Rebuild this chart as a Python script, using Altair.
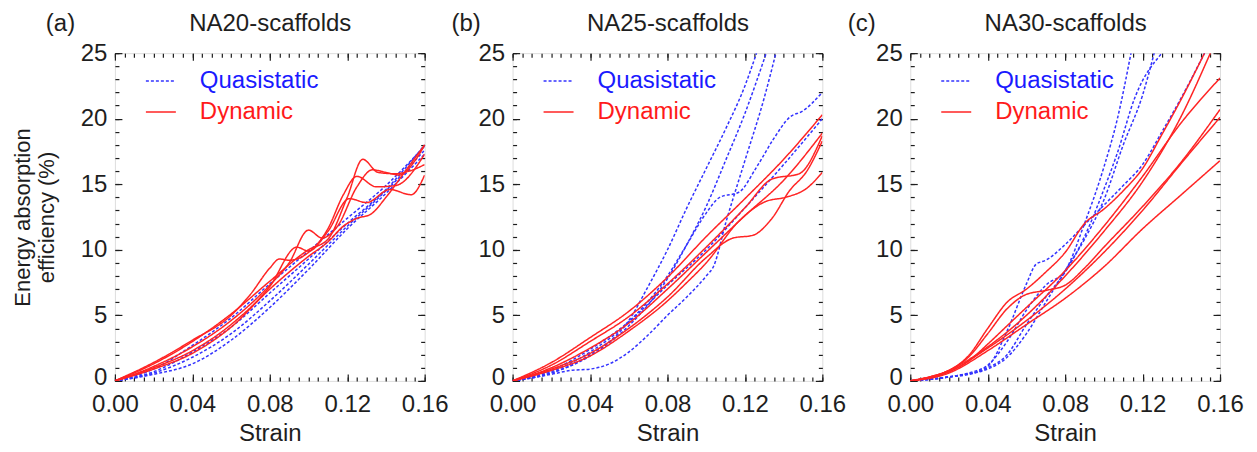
import altair as alt
import pandas as pd

FONT = "Liberation Sans"
INK = "#1e1e1e"
BLUE = "#3333ff"
RED = "#ff2424"

# ---- data: (strain, energy absorption efficiency %) ----
# NA20-scaffolds
NA20_Q1 = [(0, 0), (0.02, 0.9), (0.04, 2.7), (0.06, 4.8), (0.08, 7.4), (0.10, 9.9), (0.12, 12.4), (0.14, 14.9), (0.16, 17.9)]
NA20_Q2 = [(0, 0), (0.02, 0.7), (0.04, 2.2), (0.06, 4.1), (0.08, 6.7), (0.10, 9.3), (0.12, 12.0), (0.14, 14.6), (0.16, 18.0)]
NA20_Q3 = [(0, 0), (0.02, 0.6), (0.04, 1.8), (0.06, 3.6), (0.08, 6.1), (0.10, 8.9), (0.12, 11.8), (0.14, 14.5), (0.16, 17.6)]
NA20_Q4 = [(0, 0), (0.02, 0.5), (0.04, 1.3), (0.06, 3.1), (0.08, 5.6), (0.10, 8.5), (0.12, 11.6), (0.14, 14.3), (0.16, 17.3)]
NA20_D1 = [(0, 0), (0.02, 1.3), (0.04, 3.0), (0.06, 5.1), (0.08, 7.6), (0.10, 10.0), (0.11, 10.8), (0.12, 14.0), (0.128, 16.9), (0.136, 15.9), (0.145, 15.8), (0.152, 16.0), (0.16, 16.5)]
NA20_D2 = [(0, 0), (0.02, 1.4), (0.04, 3.1), (0.06, 5.0), (0.07, 6.6), (0.08, 8.6), (0.085, 9.3), (0.09, 9.2), (0.10, 9.8), (0.11, 11.6), (0.118, 14.2), (0.125, 15.6), (0.135, 14.8), (0.145, 14.9), (0.16, 17.3)]
NA20_D3 = [(0, 0), (0.02, 1.1), (0.04, 2.6), (0.06, 4.6), (0.08, 7.3), (0.09, 9.0), (0.10, 11.5), (0.107, 10.9), (0.115, 11.8), (0.125, 14.8), (0.133, 16.1), (0.14, 15.9), (0.147, 15.7), (0.155, 16.8), (0.16, 18.0)]
NA20_D4 = [(0, 0), (0.02, 1.0), (0.04, 2.3), (0.06, 4.3), (0.08, 7.2), (0.094, 10.2), (0.10, 9.9), (0.11, 11.4), (0.121, 13.9), (0.13, 13.6), (0.142, 14.6), (0.153, 14.2), (0.16, 15.7)]
NA20_D5 = [(0, 0), (0.02, 0.9), (0.04, 2.1), (0.06, 4.1), (0.08, 7.0), (0.10, 9.5), (0.11, 10.6), (0.118, 11.8), (0.125, 12.4), (0.132, 12.7), (0.14, 14.0), (0.15, 16.0), (0.16, 18.0)]

# NA25-scaffolds
NA25_Q1 = [(0, 0), (0.02, 0.6), (0.04, 2.0), (0.06, 4.6), (0.07, 7.2), (0.08, 10.0), (0.09, 13.2), (0.10, 16.2), (0.11, 19.2), (0.12, 22.5), (0.126, 25.0)]
NA25_Q2 = [(0, 0), (0.02, 0.6), (0.04, 1.9), (0.06, 4.2), (0.07, 5.8), (0.08, 7.8), (0.09, 10.4), (0.10, 13.3), (0.11, 16.8), (0.12, 20.4), (0.131, 25.0)]
NA25_Q3 = [(0, 0), (0.02, 0.5), (0.03, 0.8), (0.04, 0.9), (0.05, 1.3), (0.06, 2.2), (0.07, 3.5), (0.08, 5.0), (0.09, 6.4), (0.10, 8.0), (0.104, 8.8), (0.11, 12.0), (0.12, 16.8), (0.13, 21.6), (0.136, 25.0)]
NA25_Q4 = [(0, 0), (0.02, 0.7), (0.04, 2.2), (0.06, 4.5), (0.08, 8.0), (0.09, 10.4), (0.10, 12.8), (0.107, 14.0), (0.117, 14.4), (0.126, 16.3), (0.135, 18.5), (0.143, 20.1), (0.15, 20.6), (0.16, 22.0)]
NA25_Q5 = [(0, 0), (0.02, 0.8), (0.04, 2.4), (0.06, 4.5), (0.08, 7.3), (0.10, 10.0), (0.12, 13.2), (0.14, 16.5), (0.16, 20.0)]
NA25_D1 = [(0, 0), (0.02, 1.4), (0.04, 3.3), (0.06, 5.3), (0.08, 7.9), (0.10, 11.0), (0.12, 13.9), (0.14, 16.9), (0.16, 20.3)]
NA25_D2 = [(0, 0), (0.02, 1.2), (0.04, 3.0), (0.06, 4.9), (0.08, 7.4), (0.10, 10.2), (0.12, 13.2), (0.134, 15.4), (0.148, 15.8), (0.16, 18.7)]
NA25_D3 = [(0, 0), (0.02, 0.9), (0.04, 2.1), (0.06, 4.0), (0.08, 6.4), (0.10, 9.4), (0.114, 10.9), (0.124, 11.1), (0.134, 12.4), (0.143, 14.5), (0.152, 16.0), (0.16, 18.3)]
NA25_D4 = [(0, 0), (0.02, 0.8), (0.04, 1.9), (0.06, 3.8), (0.08, 6.1), (0.09, 7.5), (0.10, 9.0), (0.117, 12.2), (0.131, 13.7), (0.141, 14.0), (0.152, 14.7), (0.16, 15.9)]
NA25_D5 = [(0, 0), (0.02, 1.0), (0.04, 2.5), (0.06, 4.4), (0.08, 7.0), (0.10, 9.8), (0.12, 12.6), (0.14, 15.3), (0.16, 18.9)]

# NA30-scaffolds
NA30_Q1 = [(0, 0), (0.02, 0.3), (0.03, 0.5), (0.04, 1.1), (0.05, 3.8), (0.06, 7.4), (0.065, 8.9), (0.07, 9.2), (0.08, 10.4), (0.09, 11.9), (0.10, 13.4), (0.11, 14.9), (0.12, 16.5), (0.13, 19.0), (0.14, 21.6), (0.152, 25.0)]
NA30_Q2 = [(0, 0), (0.02, 0.3), (0.03, 0.6), (0.04, 1.2), (0.05, 3.0), (0.06, 5.4), (0.07, 7.3), (0.08, 8.4), (0.09, 12.0), (0.10, 16.3), (0.107, 20.0), (0.114, 25.0)]
NA30_Q3 = [(0, 0), (0.02, 0.3), (0.04, 1.0), (0.05, 2.0), (0.06, 4.3), (0.07, 6.4), (0.08, 8.3), (0.09, 11.0), (0.10, 14.6), (0.107, 17.4), (0.116, 21.6), (0.13, 25.0)]
NA30_Q4 = [(0, 0), (0.02, 0.3), (0.04, 0.9), (0.05, 1.8), (0.06, 3.6), (0.07, 6.0), (0.08, 8.4), (0.09, 10.8), (0.10, 13.8), (0.11, 18.0), (0.12, 21.8), (0.126, 25.0)]
NA30_D1 = [(0, 0), (0.01, 0.3), (0.02, 0.8), (0.03, 1.9), (0.04, 4.0), (0.05, 6.0), (0.06, 7.0), (0.07, 8.3), (0.08, 9.8), (0.09, 12.0), (0.10, 13.1), (0.11, 14.5), (0.12, 16.2), (0.13, 18.8), (0.14, 21.5), (0.152, 25.0)]
NA30_D2 = [(0, 0), (0.01, 0.3), (0.02, 0.8), (0.03, 1.8), (0.04, 3.6), (0.05, 5.5), (0.06, 6.6), (0.07, 6.9), (0.08, 7.3), (0.09, 8.6), (0.10, 10.2), (0.12, 13.3), (0.14, 16.7), (0.16, 20.7)]
NA30_D3 = [(0, 0), (0.02, 0.7), (0.03, 1.5), (0.04, 2.8), (0.05, 4.2), (0.06, 5.6), (0.08, 8.4), (0.10, 11.8), (0.12, 15.6), (0.14, 19.7), (0.16, 23.1)]
NA30_D4 = [(0, 0), (0.02, 0.7), (0.04, 2.5), (0.06, 4.6), (0.08, 7.0), (0.10, 9.8), (0.12, 13.0), (0.14, 16.6), (0.16, 20.1)]
NA30_D5 = [(0, 0), (0.02, 0.6), (0.04, 2.3), (0.06, 4.3), (0.08, 6.3), (0.10, 8.7), (0.12, 11.6), (0.14, 14.2), (0.16, 16.8)]
NA30_D6 = [(0, 0), (0.02, 0.8), (0.04, 2.6), (0.06, 5.0), (0.08, 8.0), (0.10, 11.4), (0.12, 15.2), (0.14, 20.2), (0.155, 25.0)]

PANELS = [
    ("(a)", "NA20-scaffolds", [NA20_Q1, NA20_Q2, NA20_Q3, NA20_Q4], [NA20_D1, NA20_D2, NA20_D3, NA20_D4, NA20_D5], -55),
    ("(b)", "NA25-scaffolds", [NA25_Q1, NA25_Q2, NA25_Q3, NA25_Q4, NA25_Q5], [NA25_D1, NA25_D2, NA25_D3, NA25_D4, NA25_D5], -47),
    ("(c)", "NA30-scaffolds", [NA30_Q1, NA30_Q2, NA30_Q3, NA30_Q4], [NA30_D1, NA30_D2, NA30_D3, NA30_D4, NA30_D5, NA30_D6], -49),
]

TYPES = ["Quasistatic", "Dynamic"]
XMAJ = [0, 0.04, 0.08, 0.12, 0.16]
XMIN = [round(i * 0.005, 3) for i in range(33)]
YMAJ = [0, 5, 10, 15, 20, 25]
YMIN = list(range(26))
W, H = 310, 328
MAJ, MIN = 7, 4
TITLE_Y = -30


def make_df(qs, ds):
    rows = []
    for kind, curves in (("Quasistatic", qs), ("Dynamic", ds)):
        for i, pts in enumerate(curves):
            for s, e in pts:
                rows.append({"curve": f"{kind}{i}", "type": kind, "strain": s, "eff": e})
    return pd.DataFrame(rows)


def legend():
    return alt.Legend(
        title=None, orient="none", legendX=10, legendY=12,
        symbolType="stroke", symbolSize=900, symbolStrokeWidth=1.5,
        symbolOffset=20, labelOffset=23, rowPadding=3, padding=0,
        labelFontSize=24, labelFont=FONT,
        labelColor=alt.ExprRef(expr="datum.label == 'Dynamic' ? '#ff1a1a' : '#1a1aff'"),
    )


def panel(tag, title, qs, ds, tagx, first):
    df = make_df(qs, ds)
    xs = alt.Scale(domain=[0, 0.16], nice=False, zero=False)
    ys = alt.Scale(domain=[0, 25], nice=False)
    base = alt.Chart(df)

    yaxis_kw = dict(orient="left", values=YMAJ, ticks=False, domain=False, grid=False,
                    labelFontSize=24, labelFont=FONT, labelColor=INK, labelPadding=8,
                    labelFlush=False, labelOverlap=False,
                    labelOffset={"condition": {"test": "datum.value == 0", "value": -3}, "value": 0})
    if first:
        yaxis_kw.update(title=["Energy absorption", "efficiency (%)"], titleFontSize=22,
                        titleFont=FONT, titleFontWeight="normal", titleColor=INK,
                        titlePadding=22, titleLineHeight=24)
    else:
        yaxis_kw.update(title=None)

    lines = base.mark_line(clip=True, strokeWidth=1.5, interpolate="monotone").encode(
        x=alt.X("strain:Q", scale=xs, axis=alt.Axis(
            orient="bottom", values=XMAJ, format=".2f", ticks=False, domain=False, grid=False,
            labelFlush=False, labelOverlap=False,
            labelFontSize=24, labelFont=FONT, labelColor=INK, labelPadding=12,
            title="Strain", titleFontSize=24, titleFont=FONT, titleFontWeight="normal",
            titleColor=INK, titlePadding=5)),
        y=alt.Y("eff:Q", scale=ys, axis=alt.Axis(**yaxis_kw)),
        color=alt.Color("type:N", scale=alt.Scale(domain=TYPES, range=[BLUE, RED]), legend=legend()),
        strokeDash=alt.StrokeDash("type:N", scale=alt.Scale(domain=TYPES, range=[[3, 2], [1, 0]]), legend=legend()),
        detail="curve:N",
    )

    def tick_layer(xo, xv, xsz, yo, yv, ysz, xtitle=None):
        xkw = dict(orient=xo, values=xv, tickSize=xsz, offset=-xsz, labels=False, domain=False,
                   grid=False, tickColor=INK, tickWidth=1.2)
        if xtitle is None:
            xkw["title"] = None
        else:
            text, tx = xtitle
            # top axis group sits at y = -offset = xsz
            xkw.update(title=text, titleX=tx, titleY=TITLE_Y - xsz, titleAlign="center",
                       titleBaseline="middle", titleAngle=0, titleFontSize=24, titleFont=FONT,
                       titleFontWeight="normal", titleColor=INK)
        return base.mark_line(opacity=0).encode(
            x=alt.X("strain:Q", scale=xs, axis=alt.Axis(**xkw)),
            y=alt.Y("eff:Q", scale=ys, axis=alt.Axis(
                orient=yo, values=yv, tickSize=ysz, offset=-ysz, labels=False, domain=False,
                grid=False, title=None, tickColor=INK, tickWidth=1.2)),
            detail="curve:N",
        )

    t1 = tick_layer("bottom", XMAJ, MAJ, "left", YMAJ, MAJ)
    t2 = tick_layer("bottom", XMIN, MIN, "left", YMIN, MIN)
    t3 = tick_layer("top", XMAJ, MAJ, "right", YMAJ, MAJ, xtitle=(title, W / 2))
    t4 = tick_layer("top", XMIN, MIN, "right", YMIN, MIN, xtitle=(tag, tagx))

    return alt.layer(lines, t1, t2, t3, t4).resolve_axis(
        x="independent", y="independent"
    ).properties(width=W, height=H)


charts = [panel(tag, title, qs, ds, tx, i == 0) for i, (tag, title, qs, ds, tx) in enumerate(PANELS)]

chart = alt.hconcat(*charts, spacing=88, bounds="flush").resolve_scale(
    color="independent", strokeDash="independent"
).resolve_legend(color="independent", strokeDash="independent").properties(
    padding={"left": 2, "top": 2, "right": 5, "bottom": 5}
).configure_view(
    stroke=INK, strokeWidth=1.3
).configure(font=FONT, background="white")

chart.save("out.html", embed_options={"renderer": "svg", "actions": False})
